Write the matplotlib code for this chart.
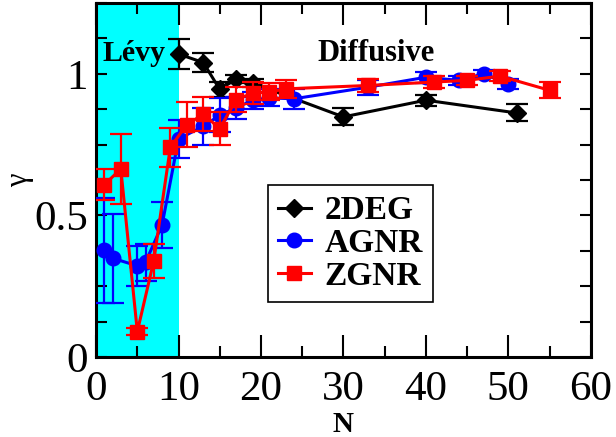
import matplotlib
matplotlib.use("Agg")
import matplotlib.pyplot as plt
from matplotlib.ticker import MultipleLocator
from matplotlib.lines import Line2D

plt.rcParams['font.family'] = ['Liberation Serif', 'DejaVu Serif']

# Data
N_2deg = [10, 13, 15, 17, 19, 30, 40, 51]
g_2deg = [1.07, 1.04, 0.945, 0.982, 0.967, 0.848, 0.907, 0.862]
e_2deg = [0.053, 0.032, 0.025, 0.015, 0.015, 0.03, 0.02, 0.03]

N_agnr = [1, 2, 5, 6, 8, 10, 13, 15, 17, 19, 21, 24, 33, 40, 44, 47, 50]
g_agnr = [0.377, 0.349, 0.322, 0.335, 0.466, 0.77, 0.815, 0.854, 0.88, 0.907, 0.915, 0.912, 0.953, 0.988, 0.977, 1.0, 0.965]
e_agnr = [0.186, 0.157, 0.07, 0.065, 0.08, 0.066, 0.065, 0.06, 0.04, 0.03, 0.03, 0.035, 0.027, 0.02, 0.015, 0.012, 0.018]

N_zgnr = [1, 3, 5, 7, 9, 11, 13, 15, 17, 19, 21, 23, 33, 41, 45, 49, 55]
g_zgnr = [0.609, 0.664, 0.09, 0.34, 0.74, 0.821, 0.857, 0.807, 0.909, 0.932, 0.936, 0.947, 0.959, 0.971, 0.977, 0.992, 0.942]
e_zgnr = [0.055, 0.125, 0.012, 0.06, 0.07, 0.08, 0.06, 0.057, 0.045, 0.038, 0.03, 0.033, 0.023, 0.02, 0.015, 0.018, 0.028]

labels = ['2DEG', 'AGNR', 'ZGNR']
colors = ['black', '#0000FF', '#FF0000']
markers = ['D', 'o', 's']
msizes = [9.5, 10.5, 9.5]

fig = plt.figure(figsize=(6.16, 4.37), dpi=100)
ax = fig.add_axes([0.156, 0.183, 0.803, 0.81])

ax.axvspan(0, 10, color='#00FFFF', zorder=0, lw=0)

kw = dict(lw=2.2, elinewidth=1.6, capsize=8, capthick=1.6)
series = [(N_2deg, g_2deg, e_2deg), (N_agnr, g_agnr, e_agnr), (N_zgnr, g_zgnr, e_zgnr)]
for i, (x, y, e) in enumerate(series):
    ax.errorbar(x, y, yerr=e, color=colors[i], marker=markers[i], ms=msizes[i],
                zorder=3 + i, **kw)

ax.set_xlim(0, 60)
ax.set_ylim(0, 1.25)
ax.xaxis.set_major_locator(MultipleLocator(10))
ax.xaxis.set_minor_locator(MultipleLocator(5))
ax.yaxis.set_minor_locator(MultipleLocator(0.125))
ax.set_yticks([0, 0.5, 1])
ax.set_yticklabels(['0', '0.5', '1'])

ax.tick_params(axis='both', which='both', direction='in', top=True, right=True,
               width=1.5, labelsize=31)
ax.tick_params(axis='x', which='major', length=16, pad=10)
ax.tick_params(axis='x', which='minor', length=8)
ax.tick_params(axis='y', which='major', length=8, pad=6)
ax.tick_params(axis='y', which='minor', length=8)
for s in ax.spines.values():
    s.set_linewidth(2.2)

ax.set_xlabel('N', fontsize=21, fontweight='bold', labelpad=1)
ax.set_ylabel('γ', fontsize=22, labelpad=0)

ax.text(0.8, 1.072, 'Lévy', fontsize=21.5, fontweight='bold', va='center', ha='left')
ax.text(26.8, 1.072, 'Diffusive', fontsize=22, fontweight='bold', va='center', ha='left')

handles = [Line2D([], [], color=colors[i], marker=markers[i], ms=msizes[i], lw=2.2)
           for i in range(3)]
leg = ax.legend(handles, labels, loc='upper left', bbox_to_anchor=(0.347, 0.485),
                frameon=True, fancybox=False, edgecolor='black', framealpha=1,
                prop={'size': 24, 'weight': 'bold'}, handlelength=1.0,
                handletextpad=0.4, labelspacing=0.05, borderpad=0.3,
                borderaxespad=0)
leg.get_frame().set_linewidth(1.2)

fig.savefig('out.png', dpi=100)
